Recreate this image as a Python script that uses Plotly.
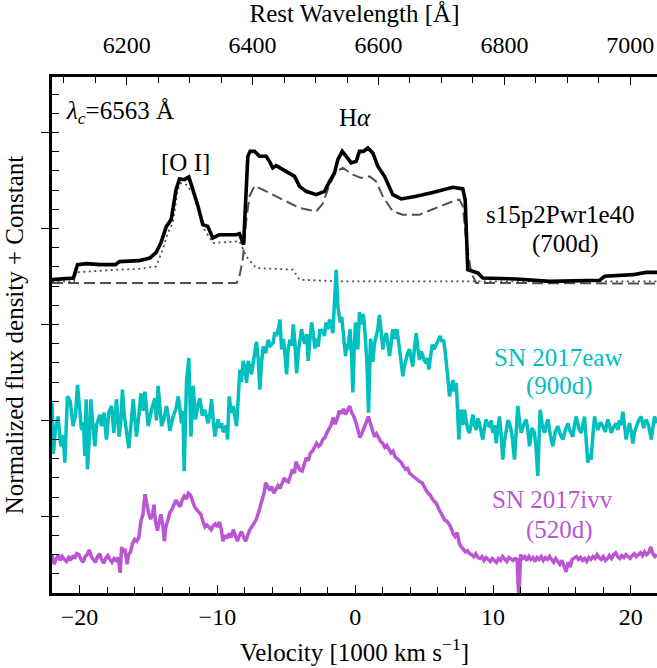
import numpy as np
import plotly.graph_objects as go

# ---------------- constants ----------------
C_KMS = 299.792458          # speed of light in 1000 km/s
LAM_C = 6563.0              # H-alpha rest wavelength (Angstrom)
X_RANGE = [-22.0, 21.9]     # velocity range (1000 km/s)
Y_RANGE = [0.2, 5.58]
FONT = "Liberation Serif"

# ---------------- model s15p2Pwr1e40 (700d) ----------------
model_total = [
    (-22.0, 3.467), (-20.45, 3.483), (-20.3, 3.551), (-20.15, 3.624), (-19.5, 3.634),
    (-18.5, 3.624), (-17.4, 3.624), (-17.1, 3.655), (-15.7, 3.665), (-14.9, 3.693),
    (-14.45, 3.749), (-14.1, 3.850), (-13.7, 4.023), (-13.35, 4.093), (-13.0, 4.406),
    (-12.75, 4.517), (-12.4, 4.510), (-12.07, 4.538), (-11.78, 4.406), (-11.4, 4.231),
    (-11.06, 4.041), (-10.7, 4.023), (-10.33, 3.902), (-9.85, 3.936), (-8.64, 3.936),
    (-8.4, 3.947), (-8.1, 3.832), (-7.79, 4.753), (-7.62, 4.805), (-7.3, 4.805),
    (-6.95, 4.753), (-6.46, 4.753), (-6.22, 4.701), (-5.98, 4.632), (-5.73, 4.656),
    (-5.0, 4.596), (-4.4, 4.544), (-4.04, 4.440), (-3.56, 4.388), (-2.83, 4.353),
    (-2.23, 4.388), (-1.86, 4.492), (-1.5, 4.580), (-1.26, 4.718), (-0.94, 4.805),
    (-0.65, 4.753), (-0.29, 4.684), (0.07, 4.701), (0.31, 4.805), (0.6, 4.805),
    (0.92, 4.840), (1.28, 4.788), (1.64, 4.649), (2.13, 4.544), (2.73, 4.353),
    (3.34, 4.309), (4.43, 4.336), (5.63, 4.377), (7.08, 4.430), (7.81, 4.413),
    (7.98, 4.301), (8.17, 3.571), (8.53, 3.554), (8.9, 3.537), (9.26, 3.485),
    (11.68, 3.474), (14.1, 3.449), (17.73, 3.460), (18.1, 3.502), (20.15, 3.519),
    (21.1, 3.543), (22.0, 3.543),
]

model_halpha = [
    (-22.0, 3.433), (-8.6, 3.433), (-8.4, 3.502), (-8.16, 3.676), (-7.9, 4.093),
    (-7.67, 4.336), (-7.3, 4.447), (-6.95, 4.423), (-5.98, 4.353), (-5.0, 4.284),
    (-4.04, 4.215), (-2.83, 4.179), (-2.35, 4.260), (-1.86, 4.458), (-1.38, 4.597),
    (-0.9, 4.632), (-0.17, 4.562), (0.44, 4.528), (1.04, 4.544), (1.52, 4.492),
    (2.0, 4.336), (2.73, 4.179), (3.45, 4.145), (4.67, 4.145), (6.12, 4.231),
    (7.08, 4.284), (7.57, 4.301), (7.81, 4.231), (8.05, 3.884), (8.42, 3.537),
    (8.78, 3.433), (22.0, 3.426),
]

model_other = [
    (-22.0, 3.449), (-20.4, 3.449), (-20.25, 3.543), (-17.4, 3.571), (-15.65, 3.579),
    (-14.45, 3.606), (-13.96, 3.780), (-13.6, 3.954), (-13.24, 4.058), (-12.87, 4.406),
    (-12.63, 4.475), (-12.27, 4.458), (-11.78, 4.371), (-11.3, 4.163), (-10.94, 3.989),
    (-10.33, 3.850), (-8.4, 3.867), (-7.9, 3.710), (-7.2, 3.589), (-4.53, 3.571),
    (-4.04, 3.467), (-1.14, 3.449), (22.0, 3.449),
]

# ---------------- SN 2017eaw (900d) ----------------
sn2017eaw = [
    (-22.0, 2.18), (-21.9, 1.65), (-21.75, 1.90), (-21.56, 2.04), (-21.36, 1.73), (-21.2, 1.85),
    (-21.07, 1.56), (-20.88, 2.25), (-20.68, 2.20), (-20.47, 1.94), (-20.3, 2.05), (-20.15, 2.37),
    (-19.98, 2.10), (-19.86, 1.90), (-19.72, 1.98), (-19.62, 1.63), (-19.52, 2.22), (-19.43, 1.49),
    (-19.3, 1.80), (-19.18, 2.22), (-19.03, 1.95), (-18.89, 1.73), (-18.77, 1.95), (-18.65, 2.01),
    (-18.52, 2.06), (-18.41, 1.94), (-18.22, 2.08), (-18.05, 1.80), (-17.88, 2.08), (-17.68, 2.15),
    (-17.51, 1.87), (-17.32, 2.22), (-17.13, 1.83), (-17.0, 2.00), (-16.89, 2.32), (-16.75, 2.05),
    (-16.6, 1.87), (-16.43, 1.71), (-16.27, 1.95), (-16.11, 2.22), (-15.98, 2.00), (-15.87, 1.83),
    (-15.7, 2.05), (-15.55, 2.28), (-15.4, 2.10), (-15.26, 2.30), (-15.02, 1.94), (-14.9, 2.05),
    (-14.78, 2.11), (-14.54, 2.23), (-14.42, 2.00), (-14.3, 2.36), (-14.05, 1.94), (-13.87, 2.02),
    (-13.69, 2.15), (-13.57, 2.05), (-13.45, 1.89), (-13.21, 2.04), (-13.0, 2.12), (-12.84, 2.25),
    (-12.6, 1.97), (-12.5, 2.10), (-12.41, 1.47), (-12.24, 2.41), (-12.07, 2.65), (-11.92, 1.83),
    (-11.75, 2.36), (-11.59, 2.01), (-11.43, 2.15), (-11.27, 2.23), (-11.1, 2.05), (-10.91, 2.11),
    (-10.67, 1.97), (-10.55, 2.06), (-10.42, 2.22), (-10.3, 2.00), (-10.18, 1.83), (-10.05, 1.95),
    (-9.94, 2.01), (-9.82, 1.92), (-9.7, 1.97), (-9.58, 1.88), (-9.46, 1.90), (-9.35, 1.95),
    (-9.26, 1.80), (-9.14, 2.25), (-9.0, 2.08), (-8.85, 2.15), (-8.72, 2.02), (-8.61, 1.94),
    (-8.5, 2.20), (-8.37, 2.53), (-8.25, 2.40), (-8.13, 2.62), (-8.0, 2.55), (-7.88, 2.39),
    (-7.76, 2.62), (-7.64, 2.56), (-7.52, 2.48), (-7.4, 2.60), (-7.28, 2.72), (-7.16, 2.82),
    (-7.04, 2.65), (-6.92, 2.32), (-6.8, 2.60), (-6.67, 2.77), (-6.5, 2.70), (-6.31, 2.84),
    (-6.15, 2.78), (-5.95, 2.81), (-5.83, 2.92), (-5.71, 2.88), (-5.58, 2.95), (-5.46, 3.05),
    (-5.34, 2.74), (-5.2, 2.85), (-5.1, 2.70), (-4.98, 2.48), (-4.86, 2.75), (-4.74, 2.84),
    (-4.6, 2.78), (-4.49, 3.00), (-4.37, 2.80), (-4.25, 2.49), (-4.1, 2.75), (-3.89, 2.95),
    (-3.77, 2.85), (-3.65, 2.80), (-3.52, 2.90), (-3.41, 2.62), (-3.28, 2.85), (-3.16, 3.02),
    (-3.04, 2.90), (-2.92, 2.75), (-2.8, 2.85), (-2.68, 2.77), (-2.56, 2.95), (-2.44, 2.91),
    (-2.35, 2.95), (-2.23, 2.88), (-2.11, 3.02), (-1.98, 2.95), (-1.86, 3.05), (-1.74, 3.00),
    (-1.62, 2.91), (-1.5, 3.36), (-1.38, 3.57), (-1.26, 3.19), (-1.17, 3.12), (-1.09, 3.02),
    (-0.98, 3.08), (-0.9, 2.95), (-0.8, 2.82), (-0.7, 2.67), (-0.6, 2.80), (-0.53, 2.74),
    (-0.45, 2.85), (-0.37, 2.95), (-0.27, 2.70), (-0.17, 2.29), (-0.07, 2.75), (0.02, 3.02),
    (0.1, 2.90), (0.19, 2.74), (0.31, 3.13), (0.43, 3.00), (0.55, 3.11), (0.64, 3.05),
    (0.72, 2.89), (0.85, 2.61), (0.97, 2.08), (1.04, 2.40), (1.11, 2.85), (1.2, 2.75),
    (1.28, 2.61), (1.4, 2.80), (1.52, 2.89), (1.64, 2.95), (1.76, 3.10), (1.88, 2.90),
    (2.01, 2.74), (2.13, 2.85), (2.25, 2.91), (2.37, 2.80), (2.49, 2.67), (2.61, 2.80),
    (2.73, 2.95), (2.87, 2.85), (3.02, 2.95), (3.12, 2.85), (3.22, 2.74), (3.34, 2.60),
    (3.46, 2.46), (3.55, 2.55), (3.65, 2.63), (3.8, 2.70), (3.94, 2.74), (4.06, 2.65),
    (4.18, 2.56), (4.3, 2.75), (4.43, 2.91), (4.55, 2.75), (4.67, 2.63), (4.79, 2.72),
    (4.91, 2.67), (5.03, 2.62), (5.15, 2.60), (5.25, 2.65), (5.34, 2.53), (5.46, 2.68),
    (5.59, 2.79), (5.72, 2.74), (5.88, 2.79), (6.03, 2.85), (6.17, 2.88), (6.29, 2.82),
    (6.41, 2.84), (6.5, 2.75), (6.6, 2.63), (6.72, 2.45), (6.84, 2.25), (6.96, 2.35),
    (7.09, 2.42), (7.2, 2.30), (7.33, 2.39), (7.43, 2.10), (7.52, 1.80), (7.6, 2.00),
    (7.69, 2.11), (7.81, 1.95), (7.93, 2.11), (8.05, 2.00), (8.17, 1.90), (8.3, 1.87),
    (8.42, 1.98), (8.54, 2.06), (8.66, 1.95), (8.78, 1.90), (8.9, 2.02), (9.02, 1.97),
    (9.14, 1.88), (9.26, 1.80), (9.38, 1.92), (9.5, 2.01), (9.62, 1.95), (9.75, 1.94),
    (9.87, 2.00), (9.99, 1.87), (10.11, 1.95), (10.23, 1.76), (10.35, 1.92), (10.47, 2.04),
    (10.59, 1.85), (10.71, 1.59), (10.83, 1.78), (10.96, 1.90), (11.08, 2.00), (11.2, 1.97),
    (11.38, 1.85), (11.56, 1.59), (11.68, 1.85), (11.8, 2.15), (11.92, 2.00), (12.04, 1.87),
    (12.22, 1.95), (12.41, 2.01), (12.53, 1.90), (12.65, 1.73), (12.83, 1.92), (13.01, 1.87),
    (13.13, 1.70), (13.25, 1.42), (13.34, 1.80), (13.42, 2.11), (13.58, 1.95), (13.74, 1.87),
    (13.86, 1.95), (13.98, 2.01), (14.16, 1.85), (14.34, 1.73), (14.52, 1.88), (14.71, 1.94),
    (14.89, 1.85), (15.07, 1.80), (15.25, 1.90), (15.43, 1.97), (15.61, 1.88), (15.79, 1.83),
    (15.91, 1.95), (16.04, 2.04), (16.22, 1.92), (16.4, 1.87), (16.52, 1.95), (16.64, 2.04),
    (16.76, 1.80), (16.88, 1.56), (17.0, 1.65), (17.12, 1.59), (17.25, 1.85), (17.37, 2.04),
    (17.49, 1.95), (17.61, 1.90), (17.79, 1.98), (17.97, 1.94), (18.15, 1.88), (18.33, 2.01),
    (18.45, 1.95), (18.58, 1.87), (18.76, 1.93), (18.94, 1.97), (19.06, 1.90), (19.18, 2.00),
    (19.3, 1.95), (19.42, 2.09), (19.54, 1.95), (19.66, 1.80), (19.78, 1.90), (19.91, 1.97),
    (20.03, 1.88), (20.15, 1.76), (20.27, 1.88), (20.39, 1.94), (20.57, 2.00), (20.75, 2.04),
    (20.93, 1.92), (21.11, 2.01), (21.29, 1.95), (21.48, 1.80), (21.6, 1.92), (21.72, 2.04),
    (21.9, 1.97),
]

# ---------------- SN 2017ivv (520d) ----------------
sn2017ivv = [
    (-22.0, 0.60), (-21.85, 0.50), (-21.7, 0.55), (-21.55, 0.60), (-21.4, 0.54), (-21.25, 0.58),
    (-21.1, 0.55), (-20.95, 0.53), (-20.8, 0.57), (-20.65, 0.54), (-20.5, 0.59), (-20.35, 0.56),
    (-20.2, 0.61), (-20.05, 0.60), (-19.9, 0.55), (-19.75, 0.52), (-19.6, 0.58), (-19.45, 0.60),
    (-19.3, 0.65), (-19.15, 0.58), (-19.0, 0.55), (-18.85, 0.52), (-18.7, 0.58), (-18.55, 0.61),
    (-18.4, 0.55), (-18.25, 0.51), (-18.1, 0.56), (-17.95, 0.59), (-17.8, 0.55), (-17.65, 0.52),
    (-17.5, 0.56), (-17.35, 0.54), (-17.2, 0.57), (-17.1, 0.45), (-17.05, 0.41), (-16.95, 0.68),
    (-16.85, 0.62), (-16.7, 0.66), (-16.55, 0.50), (-16.45, 0.60), (-16.3, 0.63), (-16.15, 0.72),
    (-16.0, 0.76), (-15.85, 0.74), (-15.7, 0.78), (-15.55, 0.95), (-15.4, 1.02), (-15.25, 1.23),
    (-15.1, 1.10), (-15.0, 1.04), (-14.85, 0.97), (-14.7, 1.02), (-14.6, 1.12), (-14.5, 0.95),
    (-14.35, 0.85), (-14.2, 0.98), (-14.1, 1.02), (-13.95, 0.90), (-13.85, 0.74), (-13.75, 0.88),
    (-13.6, 0.97), (-13.45, 1.04), (-13.3, 1.07), (-13.15, 1.12), (-13.0, 1.17), (-12.85, 1.13),
    (-12.7, 1.10), (-12.55, 1.17), (-12.4, 1.21), (-12.25, 1.18), (-12.1, 1.24), (-11.95, 1.22),
    (-11.8, 1.16), (-11.65, 1.10), (-11.5, 1.07), (-11.35, 1.05), (-11.2, 1.02), (-11.05, 0.95),
    (-10.9, 0.89), (-10.75, 0.91), (-10.6, 0.88), (-10.45, 0.86), (-10.3, 0.90), (-10.15, 0.92),
    (-10.0, 0.89), (-9.85, 0.94), (-9.7, 0.85), (-9.6, 0.74), (-9.45, 0.80), (-9.3, 0.77),
    (-9.15, 0.82), (-9.0, 0.78), (-8.85, 0.86), (-8.7, 0.80), (-8.55, 0.74), (-8.4, 0.80),
    (-8.25, 0.84), (-8.1, 0.78), (-7.95, 0.74), (-7.8, 0.80), (-7.65, 0.86), (-7.5, 0.89),
    (-7.35, 0.93), (-7.2, 0.96), (-7.05, 1.02), (-6.9, 1.10), (-6.75, 1.16), (-6.6, 1.25),
    (-6.5, 1.35), (-6.35, 1.30), (-6.2, 1.27), (-6.05, 1.31), (-5.9, 1.24), (-5.75, 1.28),
    (-5.6, 1.32), (-5.45, 1.29), (-5.3, 1.34), (-5.15, 1.40), (-5.0, 1.37), (-4.85, 1.36),
    (-4.7, 1.42), (-4.55, 1.49), (-4.4, 1.45), (-4.3, 1.57), (-4.15, 1.52), (-4.0, 1.48),
    (-3.85, 1.47), (-3.7, 1.53), (-3.55, 1.61), (-3.4, 1.58), (-3.25, 1.66), (-3.1, 1.68),
    (-2.95, 1.72), (-2.8, 1.76), (-2.65, 1.73), (-2.5, 1.75), (-2.35, 1.80), (-2.2, 1.82),
    (-2.05, 1.87), (-1.9, 1.92), (-1.75, 1.95), (-1.6, 2.03), (-1.45, 1.96), (-1.3, 2.02),
    (-1.15, 2.10), (-1.0, 2.07), (-0.85, 2.12), (-0.7, 2.06), (-0.55, 2.10), (-0.4, 2.15),
    (-0.25, 2.08), (-0.1, 2.04), (0.05, 1.98), (0.2, 1.88), (0.35, 1.82), (0.5, 1.87),
    (0.65, 1.94), (0.8, 1.98), (0.95, 2.04), (1.1, 1.96), (1.25, 1.90), (1.4, 1.83),
    (1.55, 1.86), (1.7, 1.82), (1.85, 1.78), (2.0, 1.76), (2.15, 1.72), (2.3, 1.74),
    (2.45, 1.69), (2.6, 1.66), (2.75, 1.68), (2.9, 1.62), (3.05, 1.60), (3.2, 1.58),
    (3.35, 1.56), (3.5, 1.52), (3.65, 1.49), (3.8, 1.50), (3.95, 1.45), (4.1, 1.43),
    (4.25, 1.41), (4.4, 1.40), (4.55, 1.38), (4.7, 1.36), (4.85, 1.35), (5.0, 1.30),
    (5.15, 1.27), (5.3, 1.24), (5.45, 1.22), (5.6, 1.18), (5.75, 1.15), (5.9, 1.13),
    (6.05, 1.08), (6.2, 1.03), (6.35, 1.00), (6.5, 0.96), (6.65, 0.95), (6.8, 0.92),
    (6.95, 0.88), (7.1, 0.82), (7.25, 0.79), (7.4, 0.83), (7.55, 0.72), (7.7, 0.68),
    (7.85, 0.65), (8.0, 0.63), (8.15, 0.64), (8.3, 0.61), (8.45, 0.60), (8.6, 0.58),
    (8.75, 0.61), (8.9, 0.57), (9.05, 0.56), (9.2, 0.58), (9.35, 0.54), (9.5, 0.57),
    (9.65, 0.55), (9.8, 0.53), (9.95, 0.56), (10.1, 0.54), (10.25, 0.52), (10.4, 0.56),
    (10.55, 0.54), (10.7, 0.58), (10.85, 0.55), (11.0, 0.53), (11.15, 0.57), (11.3, 0.55),
    (11.45, 0.54), (11.6, 0.56), (11.75, 0.55), (11.82, 0.30), (11.88, 0.15), (11.95, 0.40),
    (12.0, 0.60), (12.15, 0.56), (12.3, 0.58), (12.45, 0.54), (12.6, 0.58), (12.75, 0.55),
    (12.9, 0.57), (13.05, 0.53), (13.2, 0.57), (13.35, 0.55), (13.5, 0.58), (13.65, 0.54),
    (13.8, 0.57), (13.95, 0.55), (14.1, 0.58), (14.25, 0.55), (14.4, 0.52), (14.55, 0.56),
    (14.7, 0.53), (14.85, 0.50), (15.0, 0.54), (15.15, 0.48), (15.3, 0.42), (15.45, 0.52),
    (15.6, 0.47), (15.75, 0.55), (15.9, 0.56), (16.05, 0.58), (16.2, 0.55), (16.35, 0.57),
    (16.5, 0.54), (16.65, 0.56), (16.8, 0.53), (16.95, 0.57), (17.1, 0.55), (17.25, 0.58),
    (17.4, 0.56), (17.55, 0.60), (17.7, 0.57), (17.85, 0.55), (18.0, 0.58), (18.15, 0.54),
    (18.3, 0.56), (18.45, 0.59), (18.6, 0.56), (18.75, 0.60), (18.9, 0.62), (19.05, 0.58),
    (19.2, 0.56), (19.35, 0.59), (19.5, 0.57), (19.65, 0.60), (19.8, 0.58), (19.95, 0.56),
    (20.1, 0.59), (20.25, 0.61), (20.4, 0.58), (20.55, 0.60), (20.7, 0.62), (20.85, 0.59),
    (21.0, 0.63), (21.15, 0.60), (21.3, 0.62), (21.45, 0.68), (21.6, 0.61), (21.75, 0.58),
    (21.9, 0.60),
]

# ---------------- labels ----------------
vel_ticks = [-20, -10, 0, 10, 20]
lam_ticks = [6200, 6400, 6600, 6800, 7000]

COL_MODEL = "#000000"
COL_COMP = "#505050"
COL_EAW = "#00BFBF"
COL_IVV = "#BA55D3"


def unzip(pairs):
    a = np.array(pairs, dtype=float)
    return a[:, 0], a[:, 1]


def vel_to_lam(v):
    return LAM_C * (1.0 + np.asarray(v) / C_KMS)


fig = go.Figure()

for pairs, col, w, dash in [
    (model_other, COL_COMP, 1.8, "2px,3.5px"),
    (model_halpha, COL_COMP, 2.0, "11px,5px"),
    (model_total, COL_MODEL, 3.6, "solid"),
    (sn2017eaw, COL_EAW, 3.5, "solid"),
    (sn2017ivv, COL_IVV, 3.5, "solid"),
]:
    vx, fy = unzip(pairs)
    fig.add_trace(go.Scatter(x=vx, y=fy, mode="lines",
                             line=dict(color=col, width=w, dash=dash),
                             hoverinfo="skip", showlegend=False))

lam_lo, lam_hi = vel_to_lam(X_RANGE[0]), vel_to_lam(X_RANGE[1])
fig.add_trace(go.Scatter(x=[lam_lo, lam_hi], y=[3, 3], xaxis="x2", yaxis="y",
                         mode="lines", line=dict(width=0), opacity=0,
                         hoverinfo="skip", showlegend=False))

TICK_SIZE = 24
TEXT_SIZE = 25
tickfont = dict(family=FONT, size=TICK_SIZE, color="black")
titlefont = dict(family=FONT, size=TEXT_SIZE, color="black")
common = dict(showline=True, linecolor="black", linewidth=3, showgrid=False,
              zeroline=False, tickcolor="black", tickwidth=1.3, automargin=False)

fig.update_layout(
    template="none",
    width=657, height=668,
    margin=dict(l=52, r=0, t=77, b=75),
    paper_bgcolor="white", plot_bgcolor="white",
    font=dict(family=FONT, size=TEXT_SIZE, color="black"),
    xaxis=dict(range=X_RANGE, ticks="inside", ticklen=8, tickmode="array",
               tickvals=vel_ticks, ticktext=[str(t).replace("-", "\u2212") for t in vel_ticks],
               minor=dict(ticks="inside", ticklen=6, tickwidth=1.3, tickcolor="black",
                          tick0=0, dtick=2, showgrid=False),
               tickfont=tickfont, mirror=False,
               title=dict(text="Velocity [1000 km s<sup>\u22121</sup>]", font=titlefont,
                          standoff=15),
               **common),
    xaxis2=dict(range=[lam_lo, lam_hi], overlaying="x", side="top", anchor="y",
                ticks="inside", ticklen=8, tickmode="array", tickvals=lam_ticks,
                ticktext=[str(t) for t in lam_ticks], ticklabelstandoff=11,
                minor=dict(ticks="inside", ticklen=6, tickwidth=1.3, tickcolor="black",
                           tick0=6000, dtick=50, showgrid=False),
                tickfont=tickfont,
                title=dict(text="Rest Wavelength [\u00c5]", font=titlefont, standoff=8),
                **common),
    yaxis=dict(range=Y_RANGE, ticks="outside", ticklen=8, tickmode="linear",
               tick0=0, dtick=1, showticklabels=False,
               minor=dict(ticks="inside", ticklen=7, tickwidth=1.3, tickcolor="black",
                          tick0=0, dtick=0.2, showgrid=False),
               title=dict(text="Normalized flux density + Constant", font=titlefont,
                          standoff=11),
               mirror=False, **common),
)

ann = [
    dict(x=-21.1, y=5.21, text="<i>\u03bb</i><sub><i>c</i></sub>=6563 \u00c5", xanchor="left",
         font=dict(color="black")),
    dict(x=-12.31, y=4.69, text="[O I]", font=dict(color="black")),
    dict(x=-0.05, y=5.16, text="H<i>\u03b1</i>", font=dict(color="black")),
    dict(x=14.91, y=4.145, text="s15p2Pwr1e40", font=dict(color="black")),
    dict(x=15.26, y=3.842, text="(700d)", font=dict(color="black")),
    dict(x=14.68, y=2.654, text="SN 2017eaw", font=dict(color=COL_EAW)),
    dict(x=14.83, y=2.362, text="(900d)", font=dict(color=COL_EAW)),
    dict(x=14.32, y=1.173, text="SN 2017ivv", font=dict(color=COL_IVV)),
    dict(x=14.83, y=0.860, text="(520d)", font=dict(color=COL_IVV)),
]
for a in ann:
    a.setdefault("xanchor", "center")
    fig.add_annotation(xref="x", yref="y", yanchor="middle", showarrow=False, **a)

fig.write_html("out.html")
